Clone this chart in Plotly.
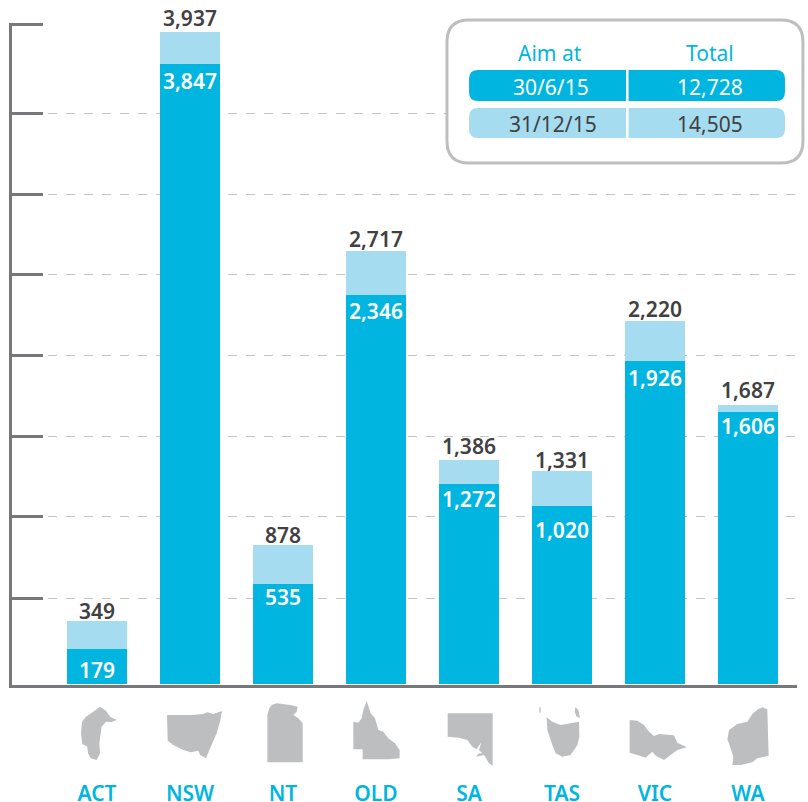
import plotly.graph_objects as go

W, H = 808, 802
L, R, T, B = 12, 11, 23, 117
PX = 0.1616            # pixels per unit on the value axis

states = ["ACT", "NSW", "NT", "OLD", "SA", "TAS", "VIC", "WA"]
# printed labels
jun_labels = ["179", "3,847", "535", "2,346", "1,272", "1,020", "1,926", "1,606"]
dec_labels = ["349", "3,937", "878", "2,717", "1,386", "1,331", "2,220", "1,687"]
# bar heights as drawn in the picture, read against the axis
jun_heights = [217, 3837, 619, 2407, 1238, 1101, 1999, 1683]
dec_heights = [390, 4035, 860, 2679, 1386, 1318, 2246, 1727]
grid_ticks = [532, 1037, 1532, 2033, 2537, 3032, 3533]
top_tick = [4084]

table_head = ["Aim at", "Total"]
table_jun = ["30/6/15", "12,728"]
table_dec = ["31/12/15", "14,505"]

# label offsets from the bar tops, in pixels
jun_shift = [21, 17, 13, 16, 15, 24, 17, 14]
dec_shift = [10, 14, 10, 12, 14, 11, 12, 15]

DARK, LIGHT = "#00b6e0", "#a6dcf0"
AXIS, GRID, MAP, TEXT = "#77787b", "#c4c5c7", "#bcbec0", "#414042"
FONT = "Noto Sans"


def px(x):
    return (x - L) / (W - L - R)


def py(y):
    return 1 - (y - T) / (H - T - B)


def poly(points):
    return "M" + " L".join(f"{px(x):.4f},{py(y):.4f}" for x, y in points) + " Z"


def rrect(x0, y0, x1, y1, r):
    p = lambda x, y: f"{px(x):.4f},{py(y):.4f}"
    return (
        f"M{p(x0 + r, y0)} L{p(x1 - r, y0)} Q{p(x1, y0)} {p(x1, y0 + r)} "
        f"L{p(x1, y1 - r)} Q{p(x1, y1)} {p(x1 - r, y1)} L{p(x0 + r, y1)} "
        f"Q{p(x0, y1)} {p(x0, y1 - r)} L{p(x0, y0 + r)} Q{p(x0, y0)} {p(x0 + r, y0)} Z"
    )


def zoomed(points, x0):
    return [(x0 + a / 3, 590 + b / 3) for a, b in points]


icons_left = [
    [(300,350),(318,362),(330,380),(350,390),(335,396),(318,395),(305,410),(302,430),(298,460),(300,490),(290,510),(272,505),(264,490),(262,470),(247,462),(243,430),(246,395),(258,380),(280,365)],
    [(501,375),(575,375),(610,372),(622,367),(640,372),(666,363),(660,395),(650,430),(628,480),(618,505),(600,495),(595,482),(572,487),(550,480),(520,465),(503,452)],
    [(815,345),(830,340),(870,345),(893,350),(890,365),(880,375),(895,385),(908,400),(908,517),(802,517),(802,375),(808,355)],
    [(1100,333),(1112,370),(1125,385),(1135,420),(1150,425),(1165,445),(1185,460),(1199,480),(1199,505),(1170,508),(1088,508),(1088,478),(1060,478),(1060,395),(1075,398),(1085,385),(1090,360)],
]
icons_right = [
    [(131,370),(266,370),(266,527),(255,520),(240,495),(215,500),(225,490),(235,490),(225,480),(232,457),(218,478),(205,470),(190,450),(165,443),(131,440)],
    [(428,382),(445,395),(470,405),(500,400),(525,395),(526,440),(520,465),(500,495),(475,500),(455,490),(445,465),(430,420)],
    [(406,352),(410,352),(410,368),(406,368)],
    [(514,352),(522,358),(528,383),(518,380),(512,365)],
    [(677,390),(700,392),(720,405),(735,425),(750,438),(765,432),(810,436),(820,458),(848,472),(820,480),(800,495),(780,510),(755,497),(745,485),(725,503),(700,495),(677,488)],
    [(1075,352),(1090,358),(1094,497),(1060,505),(1045,517),(1010,525),(985,525),(988,500),(975,460),(970,450),(975,420),(1000,402),(1030,395),(1045,372),(1062,358)],
]

shape_base = dict(xref="paper", yref="paper", type="path", layer="above")
shapes = []
for pts in icons_left:
    shapes.append(dict(shape_base, path=poly(zoomed(pts, 0)), fillcolor=MAP, line_width=0))
for pts in icons_right:
    shapes.append(dict(shape_base, path=poly(zoomed(pts, 404)), fillcolor=MAP, line_width=0))

shapes.append(dict(shape_base, path=rrect(447, 20, 803, 163, 22), fillcolor="white",
                   line=dict(color=MAP, width=3)))
shapes.append(dict(shape_base, path=rrect(469, 70, 785, 101, 9), fillcolor=DARK, line_width=0))
shapes.append(dict(shape_base, path=rrect(469, 108, 785, 138, 9), fillcolor=LIGHT, line_width=0))
shapes.append(dict(shape_base, path=poly([(626, 70), (628.5, 70), (628.5, 138), (626, 138)]),
                   fillcolor="white", line_width=0))

fig = go.Figure()
fig.add_bar(x=states, y=dec_heights, marker_color=LIGHT, marker_line_width=0,
            width=0.645, hoverinfo="skip")
fig.add_bar(x=states, y=jun_heights, marker_color=DARK, marker_line_width=0,
            width=0.645, hoverinfo="skip")

annotations = []
for state, top, label, shift in zip(states, dec_heights, dec_labels, dec_shift):
    annotations.append(dict(x=state, y=top, text=label, showarrow=False, yanchor="middle",
                            yshift=shift,
                            font=dict(family=FONT, size=21, color=TEXT, weight=600)))
for state, top, label, shift in zip(states, jun_heights, jun_labels, jun_shift):
    annotations.append(dict(x=state, y=top, text=label, showarrow=False, yanchor="middle",
                            yshift=-shift,
                            font=dict(family=FONT, size=21, color="white", weight=600)))

rows = [(53, 550, table_head, DARK), (87, 551, table_jun, "white"), (124, 553, table_dec, TEXT)]
for y, first_x, cells, colour in rows:
    for x, cell in zip((first_x, 710), cells):
        annotations.append(dict(xref="paper", yref="paper", x=px(x), y=py(y), text=cell,
                                showarrow=False, xanchor="center", yanchor="middle",
                                font=dict(family=FONT, size=21, color=colour)))

fig.update_layout(
    width=W, height=H, autosize=False, showlegend=False, barmode="overlay",
    margin=dict(l=L, r=R, t=T, b=B, pad=0, autoexpand=False),
    paper_bgcolor="white", plot_bgcolor="white",
    shapes=shapes, annotations=annotations,
    xaxis=dict(type="category", categoryorder="array", categoryarray=states, automargin=False,
               range=[(L - 97) / 93, (W - R - 97) / 93], showline=True, linewidth=3,
               linecolor=AXIS, showgrid=False, ticks="", ticklabelstandoff=88,
               tickfont=dict(family=FONT, size=21, color=DARK, weight=600)),
    yaxis=dict(range=[-1 / PX, 661 / PX], showline=True, linewidth=3, linecolor=AXIS,
               automargin=False, tickmode="array", tickvals=grid_ticks, ticks="inside", ticklen=31,
               tickwidth=3, tickcolor=AXIS, showticklabels=False, zeroline=False,
               showgrid=True, gridcolor=GRID, gridwidth=1, griddash="dash",
               minor=dict(tickmode="array", tickvals=top_tick, ticks="inside", ticklen=31,
                          tickwidth=3, tickcolor=AXIS, showgrid=False)),
)

fig.write_html("out.html", config={"displayModeBar": False},
               post_script="document.body.style.margin='0';")
